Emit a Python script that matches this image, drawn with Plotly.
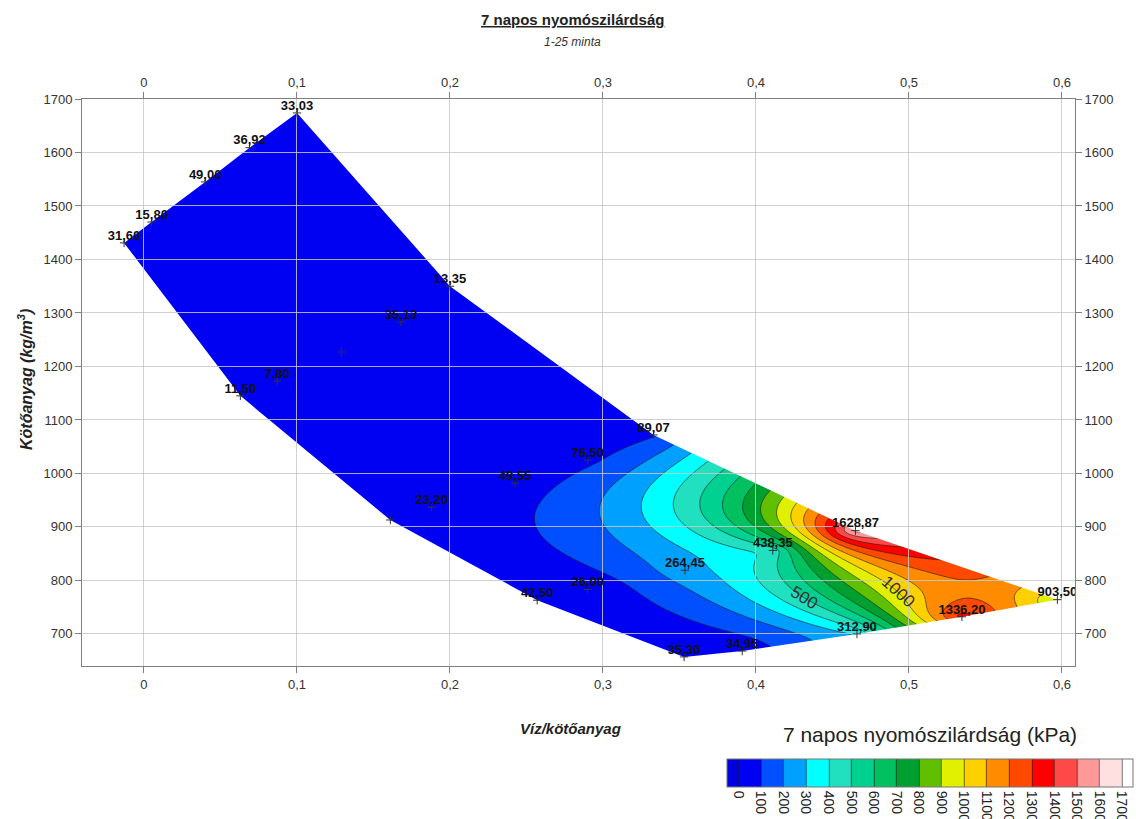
import numpy as np
import plotly.graph_objects as go

# --- samples: water/binder ratio, binder content (kg/m3), 7-day compressive strength (kPa) ---
viz_kotoanyag = [-0.013, 0.005, 0.040, 0.069, 0.100, 0.200, 0.168, 0.129, 0.087, 0.063,
                 0.161, 0.188, 0.2425, 0.290, 0.333, 0.257, 0.290, 0.3536, 0.353, 0.391,
                 0.466, 0.411, 0.465, 0.597, 0.5346]
kotoanyag = [1431, 1470, 1545, 1609, 1674, 1350, 1283, 1227, 1173, 1145,
             913, 937, 982, 1025, 1072, 763, 783, 819, 657, 668,
             700, 856, 893, 764, 732]
szilardsag = [31.60, 15.80, 49.00, 36.92, 33.03, 13.35, 35.13, 20.00, 7.80, 11.50,
              25.00, 23.20, 49.55, 76.50, 89.07, 42.50, 26.00, 264.45, 35.30, 34.95,
              312.90, 438.35, 1628.87, 903.50, 1336.20]
felirat_latszik = [True, True, True, True, True, True, True, False, True, True,
                   False, True, True, True, True, True, True, True, True, True,
                   True, True, True, True, True]
# outer samples, in order, that bound the mapped area
korvonal = [0, 9, 10, 15, 18, 19, 20, 24, 23, 22, 14, 5, 4, 3, 2, 1]

szintek = list(range(0, 1800, 100))  # contour levels 0..1700 kPa
band_colors = ['#0000E0', '#0000F2', '#0050FF', '#00A0FF', '#00FFFF', '#20E0C0',
               '#00D090', '#00C060', '#00A030', '#60C000', '#E0F000', '#FFD000',
               '#FF8C00', '#FF4800', '#FF0000', '#FF4848', '#FF9898', '#FFE0E0', '#FFFFFF']
# labelled isolines: level and the binder content where its label sits
cimkezett_szint = [500, 1000]
cimke_kotoanyag = [768, 778]

x_range = [-0.0405, 0.6085]
y_range = [640, 1700]
x_ticks = [0, 0.1, 0.2, 0.3, 0.4, 0.5, 0.6]
y_ticks = list(range(700, 1800, 100))

WIDTH, HEIGHT = 1136, 819
M_L, M_R, M_T, M_B = 82, 61, 99, 153
plot_w, plot_h = WIDTH - M_L - M_R, HEIGHT - M_T - M_B

# --- ordinary kriging, linear variogram, distances in (1000*w/c, binder) units ---
xs = np.asarray(viz_kotoanyag, float)
ys = np.asarray(kotoanyag, float)
zs = np.asarray(szilardsag, float)
P = np.column_stack([xs * 1000.0, ys])
n = len(P)
A = np.zeros((n + 1, n + 1))
A[:n, :n] = np.linalg.norm(P[:, None, :] - P[None, :, :], axis=2)
A[:n, n] = 1.0
A[n, :n] = 1.0

gx = np.linspace(xs.min() - 0.01, xs.max() + 0.01, 300)
gy = np.linspace(ys.min() - 15, ys.max() + 15, 300)
GX, GY = np.meshgrid(gx, gy)
G = np.column_stack([GX.ravel() * 1000.0, GY.ravel()])
B = np.hstack([np.linalg.norm(G[:, None, :] - P[None, :, :], axis=2), np.ones((len(G), 1))])
W = np.linalg.solve(A, B.T)
Z = np.clip((W[:n].T @ zs).reshape(GX.shape), 0.5, None)

# --- isoline value labels: position where the level crosses the given row, rotated along the line ---
px_x = plot_w / (x_range[1] - x_range[0])
px_y = plot_h / (y_range[1] - y_range[0])
dZdx = np.gradient(Z, gx, axis=1)
dZdy = np.gradient(Z, gy, axis=0)

def isoline_label(level, y_at):
    j = int(np.argmin(np.abs(gy - y_at)))
    row = Z[j]
    idx = np.where((row[:-1] < level) & (row[1:] >= level) & (gx[:-1] > 0.35))[0][0]
    t = (level - row[idx]) / (row[idx + 1] - row[idx])
    xl = gx[idx] + t * (gx[idx + 1] - gx[idx])
    gxs = dZdx[j, idx] / px_x
    gys = -dZdy[j, idx] / px_y
    ang = np.degrees(np.arctan2(gxs, -gys))
    if ang > 90:
        ang -= 180
    if ang <= -90:
        ang += 180
    return dict(text=str(level), x=xl, y=gy[j], xref='x', yref='y', showarrow=False,
                textangle=float(ang), font=dict(size=17, color='#333'),
                xanchor='center', yanchor='middle')

# --- white cover outside the sampled outline ---
outline = [(xs[i], ys[i]) for i in korvonal]
area = sum(outline[i][0] * outline[(i + 1) % len(outline)][1]
           - outline[(i + 1) % len(outline)][0] * outline[i][1] for i in range(len(outline)))
hole = outline[::-1] if area > 0 else outline
x0, x1 = x_range[0] - 0.05, x_range[1] + 0.05
y0, y1 = y_range[0] - 100, y_range[1] + 100
ring = [(x0, y0), (x1, y0), (x1, y1), (x0, y1), (x0, y0)]
mask = ring + hole + [hole[0], (x0, y0)]

colorscale = [[k / (len(band_colors) - 1), c] for k, c in enumerate(band_colors)]

fig = go.Figure()

fig.add_trace(go.Contour(
    x=gx, y=gy, z=Z,
    contours=dict(start=szintek[0], end=szintek[-1], size=100, coloring='fill'),
    colorscale=colorscale,
    line=dict(width=0.6, color='#1a1a1a'),
    hoverinfo='skip',
    colorbar=dict(
        orientation='h', lenmode='pixels', len=426, thickness=28,
        x=(717 - M_L) / plot_w, xanchor='left', y=-(726 - (HEIGHT - M_B)) / plot_h, yanchor='top',
        title=dict(text='7 napos nyomószilárdság (kPa)', side='top',
                   font=dict(size=21, color='#222')),
        tickvals=szintek, tickangle=90, ticks='',
        tickfont=dict(size=14, color='#222'),
        outlinecolor='#777', outlinewidth=1,
    ),
    xaxis='x', yaxis='y',
))

fig.add_trace(go.Scatter(
    x=[p[0] for p in mask], y=[p[1] for p in mask],
    mode='lines', fill='toself', fillcolor='white',
    line=dict(width=0, color='white'),
    hoverinfo='skip', showlegend=False,
    xaxis='x', yaxis='y',
))

# sample markers and their strength labels
fig.add_trace(go.Scatter(
    x=viz_kotoanyag, y=kotoanyag, mode='markers',
    marker=dict(symbol='cross-thin', size=6, line=dict(width=1, color='#333')),
    hoverinfo='skip', showlegend=False,
    xaxis='x2', yaxis='y2',
))
lx = [x for x, s in zip(viz_kotoanyag, felirat_latszik) if s]
ly = [y for y, s in zip(kotoanyag, felirat_latszik) if s]
lt = [f"{v:.2f}".replace('.', ',') for v, s in zip(szilardsag, felirat_latszik) if s]
fig.add_trace(go.Scatter(
    x=lx, y=ly, text=lt, mode='text', textposition='top center',
    textfont=dict(family='Liberation Sans Narrow, Arial Narrow, Liberation Sans, Arial',
                  size=13, color='#111', weight='bold'),
    hoverinfo='skip', showlegend=False,
    xaxis='x2', yaxis='y2',
))

# mirrored axes on top and right
fig.add_trace(go.Scatter(
    x=viz_kotoanyag, y=kotoanyag, mode='markers', marker=dict(opacity=0),
    hoverinfo='skip', showlegend=False, xaxis='x3', yaxis='y3',
))

axis_common = dict(
    showline=True, linecolor='#808080', linewidth=1,
    ticks='outside', ticklen=6, tickcolor='#808080',
    tickfont=dict(size=13, color='#333'), zeroline=False,
)

annotations = [isoline_label(lv, yv) for lv, yv in zip(cimkezett_szint, cimke_kotoanyag)]
base = HEIGHT - M_B
annotations += [
    dict(text='<b><u>7 napos nyomószilárdság</u></b>', xref='paper', yref='paper',
         x=0.494, y=(base - 20) / plot_h, xanchor='center', yanchor='middle',
         showarrow=False, font=dict(size=15, color='#222')),
    dict(text='<i>1-25 minta</i>', xref='paper', yref='paper',
         x=0.494, y=(base - 42) / plot_h, xanchor='center', yanchor='middle',
         showarrow=False, font=dict(size=12, color='#333')),
    dict(text='<b><i>Víz/kötőanyag</i></b>', xref='paper', yref='paper',
         x=(570 - M_L) / plot_w, y=(base - 728) / plot_h, xanchor='center', yanchor='middle',
         showarrow=False, font=dict(size=15, color='#222')),
    dict(text='<b><i>Kötőanyag (kg/m<sup>3</sup>)</i></b>', xref='paper', yref='paper',
         x=(25 - M_L) / plot_w, y=(base - 380) / plot_h, xanchor='center', yanchor='middle',
         showarrow=False, textangle=-90, font=dict(size=16, color='#222')),
]

fig.update_layout(
    width=WIDTH, height=HEIGHT,
    margin=dict(l=M_L, r=M_R, t=M_T, b=M_B, autoexpand=False),
    paper_bgcolor='white', plot_bgcolor='rgba(0,0,0,0)',
    separators=', ',
    font=dict(family='Liberation Sans, Arial, sans-serif', color='#222'),
    showlegend=False,
    xaxis=dict(range=x_range, visible=False, fixedrange=True),
    yaxis=dict(range=y_range, visible=False, fixedrange=True),
    xaxis2=dict(range=x_range, anchor='y2', tickvals=x_ticks, showgrid=True,
                gridcolor='rgba(200,200,200,0.85)', gridwidth=1, **axis_common),
    yaxis2=dict(range=y_range, anchor='x2', tickvals=y_ticks, showgrid=True,
                gridcolor='rgba(200,200,200,0.85)', gridwidth=1, **axis_common),
    xaxis3=dict(range=x_range, overlaying='x2', side='top', anchor='y3',
                tickvals=x_ticks, showgrid=False, **axis_common),
    yaxis3=dict(range=y_range, overlaying='y2', side='right', anchor='x3',
                tickvals=y_ticks, showgrid=False, **axis_common),
    annotations=annotations,
)

fig.write_html('out.html')
